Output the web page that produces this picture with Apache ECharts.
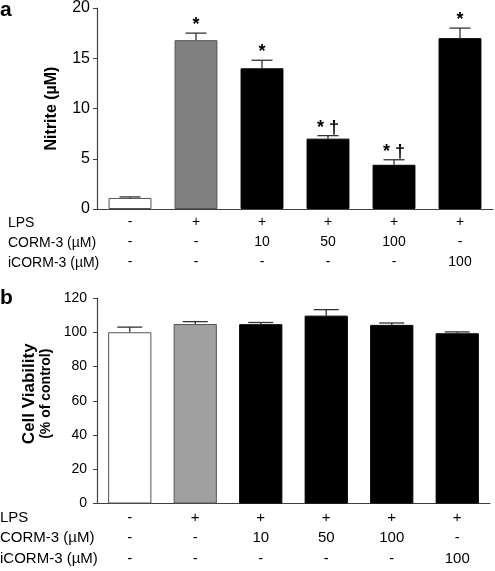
<!DOCTYPE html>
<html>
<head>
<meta charset="utf-8">
<script src="https://cdn.jsdelivr.net/npm/echarts@6/dist/echarts.min.js"></script>
<style>
html,body{margin:0;padding:0;background:#fff;}
#chart{width:495px;height:571px;}
</style>
</head>
<body>
<div id="chart"></div>
<script>
// ---- data ----
const categories = ['Control', 'LPS', 'LPS+CORM-3 10', 'LPS+CORM-3 50', 'LPS+CORM-3 100', 'LPS+iCORM-3 100'];
const lpsRow = ['-', '+', '+', '+', '+', '+'];
const cormRow = ['-', '-', '10', '50', '100', '-'];
const icormRow = ['-', '-', '-', '-', '-', '100'];
const rowLabels = ['LPS', 'CORM-3 (µM)', 'iCORM-3 (µM)'];
const nitrite = [1.1, 16.8, 14.0, 7.0, 4.4, 17.0];
const nitriteErr = [0.1, 0.7, 0.8, 0.3, 0.5, 1.0];
const nitriteSig = ['', '*', '*', '* †', '* †', '*'];
const viability = [100, 104.8, 104.7, 109.7, 104.3, 99.4];
const viabilityErr = [3.0, 1.4, 1.0, 3.5, 1.1, 0.8];
const nitriteTicks = {min: 0, max: 20, interval: 5};
const viabilityTicks = {min: 0, max: 120, interval: 20};

// ---- styling ----
const FONT = '"Liberation Sans", Arial, sans-serif';
const topColors = ['#ffffff', '#808080', '#000000', '#000000', '#000000', '#000000'];
const botColors = ['#ffffff', '#a0a0a0', '#000000', '#000000', '#000000', '#000000'];
const borderColors = ['#555555', '#555555', '#000000', '#000000', '#000000', '#000000'];
const AXIS_COLOR = '#404040';

function xLabel(i) {
  return lpsRow[i] + '\n' + cormRow[i] + '\n' + icormRow[i];
}

function barData(vals, colors) {
  return vals.map((v, i) => ({
    value: v,
    itemStyle: {color: colors[i], borderColor: borderColors[i], borderWidth: 1}
  }));
}

function errSeries(xIdx, yIdx, vals, errs, sigs, capW) {
  return {
    type: 'custom',
    xAxisIndex: xIdx,
    yAxisIndex: yIdx,
    z: 5,
    silent: true,
    data: vals.map((v, i) => [i, v, errs[i]]),
    renderItem: function (params, api) {
      const i = api.value(0), v = api.value(1), e = api.value(2);
      const sig = sigs ? sigs[i] : '';
      const p0 = api.coord([i, v]);
      const p1 = api.coord([i, v + e]);
      const children = [
        {type: 'line', shape: {x1: p0[0], y1: p0[1], x2: p1[0], y2: p1[1]},
         style: {stroke: '#333', lineWidth: 1.3}},
        {type: 'line', shape: {x1: p1[0] - capW / 2, y1: p1[1], x2: p1[0] + capW / 2, y2: p1[1]},
         style: {stroke: '#333', lineWidth: 1.3}}
      ];
      if (sig) {
        children.push({
          type: 'text',
          style: {text: sig, x: p1[0], y: p1[1] + 1, align: 'center', verticalAlign: 'bottom',
                  font: 'bold 18px ' + FONT, fill: '#000'}
        });
      }
      return {type: 'group', children: children};
    }
  };
}

const chart = echarts.init(document.getElementById('chart'), null, {renderer: 'canvas'});

const graphics = [
  {type: 'text', left: 0, top: 0, style: {text: 'a', font: 'bold 21px ' + FONT, fill: '#000'}},
  {type: 'text', left: 0, top: 288, style: {text: 'b', font: 'bold 21px ' + FONT, fill: '#000'}}
];
const topRowsY = [223, 243, 263];
const botRowsY = [518, 538, 559];
rowLabels.forEach((t, k) => {
  graphics.push({type: 'text', x: 8, y: topRowsY[k],
    style: {text: t, font: '14px ' + FONT, fill: '#000', verticalAlign: 'middle'}});
  graphics.push({type: 'text', x: 0, y: botRowsY[k],
    style: {text: t, font: '15px ' + FONT, fill: '#000', verticalAlign: 'middle'}});
});

const option = {
  backgroundColor: '#fff',
  animation: false,
  graphic: graphics,
  grid: [
    {left: 97, top: 7, width: 396, height: 202},
    {left: 97, top: 298, width: 393, height: 205.5}
  ],
  xAxis: [
    {type: 'category', gridIndex: 0, data: categories,
     axisLine: {lineStyle: {color: AXIS_COLOR, width: 1.2}},
     axisTick: {show: false},
     axisLabel: {formatter: (v, i) => xLabel(i), fontFamily: FONT, fontSize: 14, color: '#000',
                 lineHeight: 20, margin: 3, interval: 0}},
    {type: 'category', gridIndex: 1, data: categories,
     axisLine: {lineStyle: {color: AXIS_COLOR, width: 1.2}},
     axisTick: {show: false},
     axisLabel: {formatter: (v, i) => xLabel(i), fontFamily: FONT, fontSize: 15, color: '#000',
                 lineHeight: 20.5, margin: 4, interval: 0}}
  ],
  yAxis: [
    {type: 'value', gridIndex: 0, min: nitriteTicks.min, max: nitriteTicks.max, interval: nitriteTicks.interval,
     splitLine: {show: false},
     axisLine: {show: true, lineStyle: {color: AXIS_COLOR, width: 1.2}},
     axisTick: {show: true, length: 4, lineStyle: {color: AXIS_COLOR}},
     axisLabel: {fontFamily: FONT, fontSize: 16, color: '#000', margin: 7},
     name: 'Nitrite (µM)', nameLocation: 'middle', nameRotate: 90, nameGap: 37,
     nameTextStyle: {fontFamily: FONT, fontSize: 16, fontWeight: 'bold', color: '#000'}},
    {type: 'value', gridIndex: 1, min: viabilityTicks.min, max: viabilityTicks.max, interval: viabilityTicks.interval,
     splitLine: {show: false},
     axisLine: {show: true, lineStyle: {color: AXIS_COLOR, width: 1.2}},
     axisTick: {show: true, length: 4, lineStyle: {color: AXIS_COLOR}},
     axisLabel: {fontFamily: FONT, fontSize: 14, color: '#000', margin: 10},
     name: '{a|Cell Viability}\n{b|(% of control)}', nameLocation: 'middle', nameRotate: 90, nameGap: 40,
     nameTextStyle: {fontFamily: FONT, color: '#000', padding: [0, 0, 0, 14],
       rich: {a: {fontFamily: FONT, fontSize: 17, fontWeight: 'bold', color: '#000', lineHeight: 17},
              b: {fontFamily: FONT, fontSize: 14, fontWeight: 'bold', color: '#000', lineHeight: 15}}}}
  ],
  series: [
    {type: 'bar', xAxisIndex: 0, yAxisIndex: 0, barWidth: '65%', data: barData(nitrite, topColors)},
    errSeries(0, 0, nitrite, nitriteErr, nitriteSig, 21),
    {type: 'bar', xAxisIndex: 1, yAxisIndex: 1, barWidth: '66%', data: barData(viability, botColors)},
    errSeries(1, 1, viability, viabilityErr, null, 25)
  ]
};
chart.setOption(option);
</script>
</body>
</html>
